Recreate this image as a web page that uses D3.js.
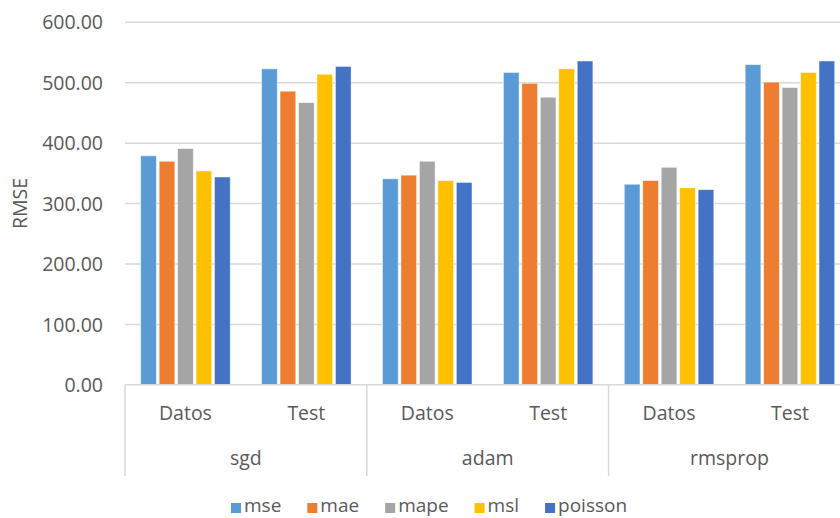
<!DOCTYPE html>
<html>
<head>
<meta charset="utf-8">
<script src="https://cdn.jsdelivr.net/npm/d3@7/dist/d3.min.js"></script>
<style>
  html, body { margin: 0; padding: 0; background: #ffffff; }
  svg { display: block; }
  text { font-family: "Open Sans", "Liberation Sans", sans-serif; fill: #595959; }
</style>
</head>
<body>
<svg id="chart" width="840" height="518"></svg>
<script>
// ---- data ----
const optimizers = ["sgd", "adam", "rmsprop"];
const splits = ["Datos", "Test"];
const series = ["mse", "mae", "mape", "msl", "poisson"];
const seriesColors = ["#5B9BD5", "#ED7D31", "#A5A5A5", "#FFC000", "#4472C4"];
// values per series, in order: sgd-Datos, sgd-Test, adam-Datos, adam-Test, rmsprop-Datos, rmsprop-Test
const mseValues     = [379, 523, 341, 517, 332, 530];
const maeValues     = [370, 486, 347, 499, 338, 501];
const mapeValues    = [391, 467, 370, 476, 360, 492];
const mslValues     = [354, 514, 338, 523, 326, 517];
const poissonValues = [344, 527, 335, 536, 323, 536];
const yTicks = [0, 100, 200, 300, 400, 500, 600];
const yTitle = "RMSE";

const seriesValues = [mseValues, maeValues, mapeValues, mslValues, poissonValues];

// ---- layout ----
const svg = d3.select("#chart");
const pLeft = 125, pRight = 850.4, pTop = 22.3, pBottom = 384.8;

const cats = [];
optimizers.forEach(o => splits.forEach(s => cats.push(o + "|" + s)));

const x0 = d3.scaleBand().domain(cats).range([pLeft, pRight]).padding(0);
const x1 = d3.scaleBand().domain(series).range([0, x0.bandwidth()])
  .paddingInner(0.15).paddingOuter(0.85);
const xg = d3.scaleBand().domain(optimizers).range([pLeft, pRight]).padding(0);
const y = d3.scaleLinear().domain([0, 600]).range([pBottom, pTop]);

// gridlines
svg.append("g").selectAll("line").data(yTicks.filter(t => t > 0)).join("line")
  .attr("x1", pLeft).attr("x2", pRight)
  .attr("y1", d => y(d)).attr("y2", d => y(d))
  .attr("stroke", "#D9D9D9").attr("stroke-width", 1.5);

// y axis labels
const yAxis = d3.axisLeft(y).tickValues(yTicks).tickSize(0).tickPadding(22)
  .tickFormat(d3.format(".2f"));
const yg = svg.append("g").attr("transform", `translate(${pLeft},0)`).call(yAxis);
yg.select(".domain").remove();
yg.selectAll("text").attr("font-size", "19.5px").style("font-family", "'Open Sans', sans-serif")
  .attr("fill", "#595959").attr("dy", "0.34em");

// y title
svg.append("text")
  .attr("transform", `translate(27,${(pTop + pBottom) / 2}) rotate(-90)`)
  .attr("text-anchor", "middle")
  .attr("font-size", "19.5px")
  .text(yTitle);

// bars
const barData = [];
cats.forEach((c, ci) => {
  series.forEach((s, si) => {
    barData.push({ cat: c, series: s, value: seriesValues[si][ci], color: seriesColors[si] });
  });
});
svg.append("g").selectAll("rect").data(barData).join("rect")
  .attr("x", d => x0(d.cat) + x1(d.series))
  .attr("width", x1.bandwidth())
  .attr("y", d => y(d.value))
  .attr("height", d => y(0) - y(d.value))
  .attr("fill", d => d.color)
  .attr("stroke", "#ffffff").attr("stroke-opacity", 0.6).attr("stroke-width", 0.8);

// baseline
svg.append("line").attr("x1", pLeft).attr("x2", pRight)
  .attr("y1", pBottom).attr("y2", pBottom)
  .attr("stroke", "#D9D9D9").attr("stroke-width", 1.5);

// group separators
const sepX = optimizers.map(o => xg(o)).concat([pRight]);
svg.append("g").selectAll("line").data(sepX).join("line")
  .attr("x1", d => d).attr("x2", d => d)
  .attr("y1", pBottom).attr("y2", 476)
  .attr("stroke", "#D9D9D9").attr("stroke-width", 1.5);

// split labels
svg.append("g").selectAll("text").data(cats).join("text")
  .attr("x", d => x0(d) + x0.bandwidth() / 2)
  .attr("y", 413).attr("dy", "0.35em")
  .attr("text-anchor", "middle").attr("font-size", "19.5px")
  .text(d => d.split("|")[1]);

// group labels
svg.append("g").selectAll("text").data(optimizers).join("text")
  .attr("x", d => xg(d) + xg.bandwidth() / 2)
  .attr("y", 458).attr("dy", "0.35em")
  .attr("text-anchor", "middle").attr("font-size", "19.5px")
  .text(d => d);

// legend
const lg = svg.append("g");
let lx = 231;
series.forEach((s, i) => {
  lg.append("rect").attr("x", lx).attr("y", 503).attr("width", 10).attr("height", 10)
    .attr("fill", seriesColors[i]);
  const t = lg.append("text").attr("x", lx + 13).attr("y", 512.3)
    .attr("font-size", "19px").text(s);
  lx += 13 + t.node().getComputedTextLength() + 26;
});
</script>
</body>
</html>
